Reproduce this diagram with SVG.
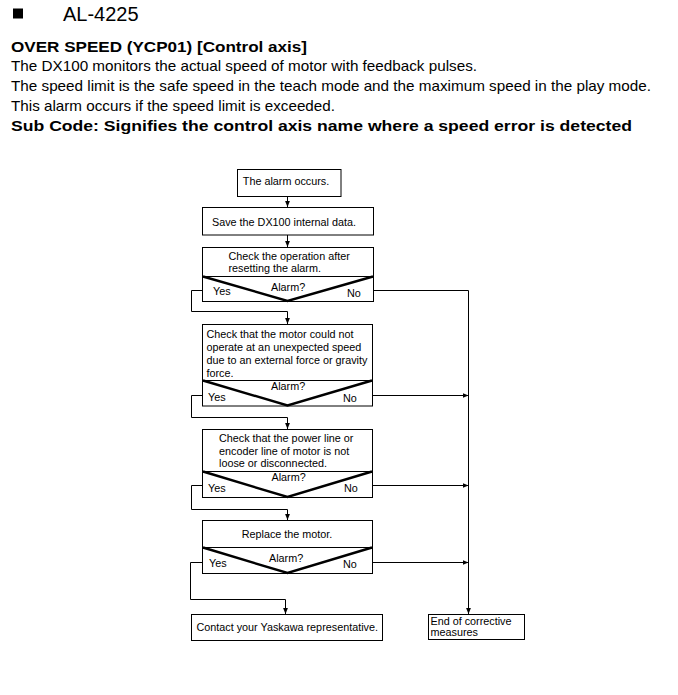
<svg xmlns="http://www.w3.org/2000/svg" width="678" height="695" viewBox="0 0 678 695">
<style>
text{font-family:"Liberation Sans",Arial,sans-serif;fill:#000}
.h{font-size:15px}
.hb{font-size:15px;font-weight:bold}
.t{font-size:10.8px}
.box{fill:#fff;stroke:#000;stroke-width:1}
.v{fill:none;stroke:#000;stroke-width:2.4;stroke-linejoin:miter}
.sep{stroke:#000;stroke-width:1}
.c{fill:none;stroke:#000;stroke-width:1}
</style>
<defs>
<marker id="ah" viewBox="0 0 6 6" refX="6" refY="3" markerWidth="6" markerHeight="6" markerUnits="userSpaceOnUse" orient="auto">
<path d="M0,0.6 L6,3 L0,5.4 Z" fill="#000"/>
</marker>
</defs>
<rect width="678" height="695" fill="#fff"/>
<g id="header">
<rect x="13" y="8.5" width="10" height="10" fill="#000"/>
<text x="63" y="21" style="font-size:20px">AL-4225</text>
<text class="hb" x="11" y="52" textLength="296" lengthAdjust="spacingAndGlyphs">OVER SPEED (YCP01) [Control axis]</text>
<text class="h" x="11" y="71" textLength="466" lengthAdjust="spacingAndGlyphs">The DX100 monitors the actual speed of motor with feedback pulses.</text>
<text class="h" x="11" y="90.5" textLength="640" lengthAdjust="spacingAndGlyphs">The speed limit is the safe speed in the teach mode and the maximum speed in the play mode.</text>
<text class="h" x="11" y="110.5" textLength="324" lengthAdjust="spacingAndGlyphs">This alarm occurs if the speed limit is exceeded.</text>
<text class="hb" x="11" y="131" textLength="621" lengthAdjust="spacingAndGlyphs">Sub Code: Signifies the control axis name where a speed error is detected</text>
</g>
<g id="connectors">
<path class="c" d="M287.5,196.5 V207" marker-end="url(#ah)"/>
<path class="c" d="M287.5,235 V247" marker-end="url(#ah)"/>
<path class="c" d="M202.5,290.5 H191.5 V311.5 H287.5 V324" marker-end="url(#ah)"/>
<path class="c" d="M373.5,290.5 H468.5 V614" marker-end="url(#ah)"/>
<path class="c" d="M202.5,395.5 H191.5 V417.5 H287.5 V429" marker-end="url(#ah)"/>
<path class="c" d="M372.5,395.5 H468.5" marker-end="url(#ah)"/>
<path class="c" d="M202.5,485.5 H191.5 V509.5 H287.5 V520" marker-end="url(#ah)"/>
<path class="c" d="M372.5,485.5 H468.5" marker-end="url(#ah)"/>
<path class="c" d="M202.5,562.5 H190.5 V599.5 H285.5 V614" marker-end="url(#ah)"/>
<path class="c" d="M372.5,562.5 H468.5" marker-end="url(#ah)"/>
</g>
<g id="n0">
<rect class="box" x="237.5" y="169.5" width="103.5" height="27"/>
<text class="t" x="286" y="184.5" text-anchor="middle">The alarm occurs.</text>
</g>
<g id="n1">
<rect class="box" x="202.5" y="207.5" width="171" height="27.5"/>
<text class="t" x="284" y="226" text-anchor="middle">Save the DX100 internal data.</text>
</g>
<g id="d1">
<rect class="box" x="202.5" y="247.5" width="171" height="54"/>
<text class="t" x="228.5" y="260">Check the operation after</text>
<text class="t" x="228.5" y="272">resetting the alarm.</text>
<line class="sep" x1="202.5" y1="276.5" x2="373.5" y2="276.5"/>
<polyline class="v" points="203,276.5 287.5,301 373,276.5"/>
<text class="t" x="271" y="291">Alarm?</text>
<text class="t" x="213" y="295">Yes</text>
<text class="t" x="347" y="297">No</text>
</g>
<g id="d2">
<rect class="box" x="202.5" y="324.5" width="170" height="81.5"/>
<text class="t" x="206.5" y="338">Check that the motor could not</text>
<text class="t" x="206.5" y="351">operate at an unexpected speed</text>
<text class="t" x="206.5" y="364">due to an external force or gravity</text>
<text class="t" x="206.5" y="376.5">force.</text>
<line class="sep" x1="202.5" y1="380.5" x2="372.5" y2="380.5"/>
<polyline class="v" points="203,380.5 287.5,405.5 372,380.5"/>
<text class="t" x="271" y="390">Alarm?</text>
<text class="t" x="208" y="400.5">Yes</text>
<text class="t" x="343" y="401.5">No</text>
</g>
<g id="d3">
<rect class="box" x="202.5" y="429.5" width="170" height="68"/>
<text class="t" x="219" y="442">Check that the power line or</text>
<text class="t" x="219" y="454.5">encoder line of motor is not</text>
<text class="t" x="219" y="467">loose or disconnected.</text>
<line class="sep" x1="202.5" y1="471.5" x2="372.5" y2="471.5"/>
<polyline class="v" points="203,471.5 287.5,497 372,471.5"/>
<text class="t" x="271.5" y="481">Alarm?</text>
<text class="t" x="208" y="492">Yes</text>
<text class="t" x="344" y="492">No</text>
</g>
<g id="d4">
<rect class="box" x="202.5" y="520.5" width="170" height="53"/>
<text class="t" x="287" y="538" text-anchor="middle">Replace the motor.</text>
<line class="sep" x1="202.5" y1="547.5" x2="372.5" y2="547.5"/>
<polyline class="v" points="203,547.5 287.5,573 372,547.5"/>
<text class="t" x="269" y="561.5">Alarm?</text>
<text class="t" x="209" y="567">Yes</text>
<text class="t" x="343" y="568">No</text>
</g>
<g id="contact">
<rect class="box" x="191.5" y="614.5" width="191" height="26"/>
<text class="t" x="196.5" y="631">Contact your Yaskawa representative.</text>
</g>
<g id="end">
<rect class="box" x="428.5" y="614.5" width="96" height="25"/>
<text class="t" x="430.5" y="625">End of corrective</text>
<text class="t" x="430.5" y="635.5">measures</text>
</g>
</svg>
